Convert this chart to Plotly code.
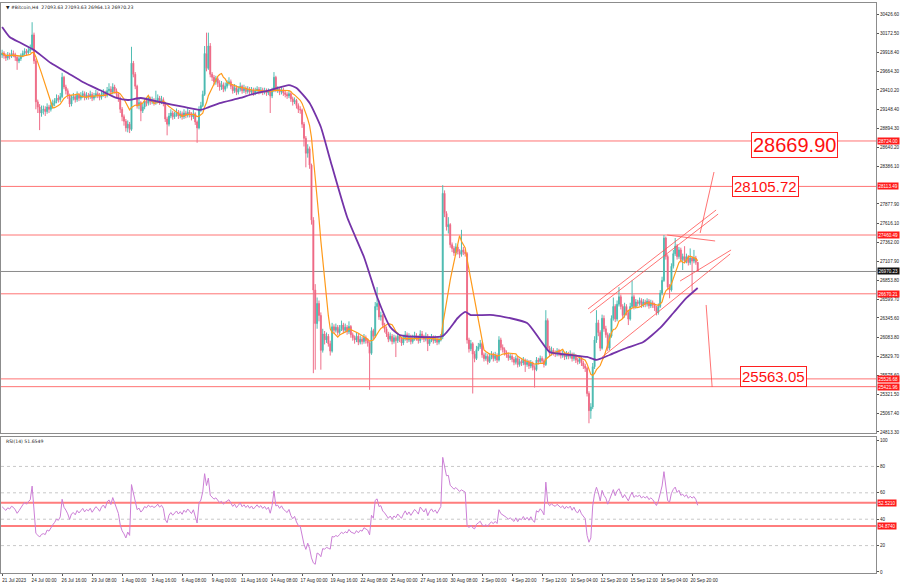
import plotly.graph_objects as go
import pandas as pd

# ---------------- data ----------------
first_open = 29880
closes = [
29905,29870,29840,29880,29860,29900,29885,29850,29800,29830,29870,29900,29930,29910,29940,29960,
30150,29800,29250,29180,29100,29140,
29150,29120,29180,29150,29200,29230,29260,29300,29280,29320,
29580,29450,29400,29330,29220,29300,
29320,29280,29340,29300,29330,29360,29310,29340,29320,29350,
29300,29330,29360,29340,29310,29350,29370,29340,29400,29420,
29380,29450,29400,29350,29300,29150,29050,28990,28900,28950,
28880,29770,29620,29460,29200,29240,29130,29180,29260,29230,
29290,29250,29270,29240,29260,29300,29250,29280,29230,29020,
28950,29060,29100,29050,29080,29110,29060,29090,29050,29100,
29070,29110,29080,29050,29090,28980,28900,29150,29200,29350,
29900,29700,30000,29620,29580,29520,29560,29500,29450,29480,
29420,29460,29500,29520,29460,29400,29440,29380,29420,29460,
29400,29430,29390,29420,29380,29410,29370,29400,29420,29390,
29410,29380,29400,29370,29390,29330,29400,29580,29410,29420,
29380,29410,29370,29350,29330,29360,29290,29250,29270,29200,
29150,29140,28950,28760,28560,28620,28400,27660,26720,26270,
26540,26380,25910,26130,26050,26100,26000,25900,26226,26180,
26220,26150,26200,26250,26180,26220,26160,26230,26120,26080,
26050,26100,26020,26060,26030,26080,26040,26010,25870,26175,
26100,26500,26540,26360,26380,26250,26200,26130,26060,26100,
26030,26080,26040,26100,26060,26010,26070,26120,26050,26090,
26030,26070,26110,26080,26040,26130,26090,26060,26100,26000,
26050,26080,26040,26060,26020,26050,26090,28020,27750,27570,
27600,27330,27280,27220,27300,27240,27200,27260,27230,27210,
26050,25930,26000,25860,25800,25920,25960,26000,25850,25800,
25830,25760,25820,25850,25800,25840,25780,26050,25950,25920,
25880,25850,25810,25830,25790,25750,25800,25720,25760,25740,
25780,25720,25750,25700,25740,25680,25650,25780,25760,25800,
25770,25720,26310,25940,25870,25910,25880,25860,25900,25870,
25840,25870,25820,25860,25830,25860,25800,25840,25780,25760,
25800,25740,25700,25670,25330,25100,25150,25690,26050,26280,
26150,25940,26340,26200,26120,25940,26100,26340,26500,26330,
26530,26630,26500,26380,26500,26420,26330,26500,26630,26500,
26560,26540,26580,26520,26560,26530,26570,26510,26550,26520,
26480,26420,26500,26680,26850,27420,27170,26760,26720,27040,
27210,27310,27170,27260,27130,27170,27110,27170,27090,27150,
27110,27150,27093.63,26970.23]
highs = [
29950,29930,29900,29920,29910,29950,29940,29910,29870,29870,29900,29940,29970,29960,29990,30020,
30320,30180,29830,29280,29220,29200,
29200,29190,29230,29210,29250,29280,29300,29350,29340,29370,
29640,29600,29480,29430,29360,29340,
29370,29350,29390,29370,29380,29400,29390,29380,29370,29400,
29380,29370,29410,29390,29370,29390,29420,29400,29450,29500,
29460,29500,29480,29430,29380,29320,29180,29080,29020,29000,
28980,29990,29800,29650,29480,29290,29260,29230,29300,29300,
29340,29320,29320,29300,29400,29350,29330,29330,29310,29250,
29050,29100,29150,29130,29120,29160,29140,29130,29120,29150,
29130,29170,29140,29110,29140,29110,29000,29190,29250,29400,
30000,30180,30180,30040,29650,29610,29600,29590,29540,29530,
29510,29510,29540,29580,29550,29490,29490,29470,29460,29510,
29480,29480,29460,29460,29450,29450,29440,29440,29460,29450,
29450,29440,29440,29430,29430,29410,29440,29650,29600,29460,
29450,29450,29440,29400,29380,29400,29380,29320,29310,29290,
29230,29190,29160,28980,28790,28680,28650,28420,27700,26800,
26620,26580,26420,26200,26170,26150,26130,26040,26280,26260,
26270,26250,26250,26310,26280,26270,26250,26300,26250,26150,
26110,26150,26130,26110,26090,26130,26110,26070,26030,26220,
26200,26560,26760,26580,26430,26400,26280,26230,26160,26150,
26130,26120,26110,26150,26130,26090,26120,26170,26150,26140,
26120,26120,26160,26140,26110,26180,26170,26120,26150,26130,
26100,26130,26110,26110,26090,26090,26130,28130,28060,27780,
27700,27620,27360,27310,27350,27330,27270,27530,27300,27270,
27230,26080,26050,26020,25900,25970,26010,26050,26020,25880,
25880,25860,25870,25900,25880,25890,25870,26100,26080,25990,
25950,25910,25880,25870,25860,25820,25840,25830,25800,25790,
25820,25800,25790,25780,25780,25760,25710,25820,25810,25840,
25830,25800,26450,26340,25970,25960,25940,25910,25940,25930,
25900,25910,25890,25900,25890,25910,25880,25880,25860,25810,
25840,25830,25770,25730,25690,25360,25200,25740,26100,26450,
26320,26180,26390,26380,26240,26150,26140,26380,26620,26530,
26580,26760,26660,26530,26550,26530,26450,26550,26850,26660,
26600,26590,26620,26610,26600,26590,26610,26600,26590,26580,
26550,26510,26540,26720,26900,27460,27440,27200,26800,27080,
27260,27420,27340,27300,27290,27210,27310,27210,27190,27280,
27170,27260,27180,27093.63]
lows = [
29840,29830,29800,29810,29820,29840,29850,29800,29680,29770,29800,29850,29880,29870,29890,29910,
29940,29760,29150,29100,28870,29050,
29080,29060,29090,29100,29120,29160,29190,29230,29240,29250,
29300,29420,29350,29290,29180,29190,
29270,29240,29250,29260,29270,29300,29270,29280,29280,29290,
29260,29270,29300,29300,29270,29280,29320,29300,29310,29370,
29340,29350,29360,29310,29250,29100,28990,28930,28850,28840,
28830,28860,29580,29420,29160,29150,28990,29100,29150,29190,
29200,29210,29220,29200,29210,29230,29210,29220,29190,28980,
28800,28920,29030,29010,29020,29050,29020,29030,29010,29020,
29030,29040,29040,29000,29020,28940,28700,28880,29110,29180,
29330,29660,29680,29580,29530,29470,29480,29450,29400,29410,
29380,29390,29430,29470,29420,29360,29370,29340,29350,29390,
29360,29370,29350,29360,29340,29350,29330,29340,29370,29350,
29360,29340,29350,29330,29340,29100,29300,29380,29380,29370,
29340,29350,29330,29310,29290,29300,29250,29200,29220,29160,
29100,29090,28900,28650,28370,28500,28350,27600,25603,25650,
26200,26300,25650,25880,25990,26010,25960,25840,25880,26140,
26150,26110,26120,26170,26140,26150,26120,26130,26080,26040,
26000,26020,25980,25990,25990,26000,26000,25960,25380,25850,
26060,26080,26450,26320,26310,26210,26150,26090,26020,26030,
25990,26000,25820,26010,26020,25970,25980,26040,26010,26020,
25990,26000,26040,26040,26000,26010,26050,26020,26030,25900,
25970,26020,26000,26010,25980,25990,26030,26060,27700,27520,
27480,27290,27230,27180,27190,27200,27150,27170,27190,27170,
26000,25880,25900,25330,25750,25780,25900,25930,25810,25760,
25770,25720,25740,25790,25760,25770,25740,25760,25910,25880,
25840,25810,25770,25780,25750,25710,25720,25680,25690,25700,
25710,25620,25690,25660,25670,25640,25410,25630,25720,25730,
25730,25680,25700,25900,25830,25840,25840,25820,25830,25830,
25800,25810,25780,25790,25790,25800,25760,25770,25740,25720,
25730,25700,25660,25620,25290,24930,24990,25120,25660,26010,
26100,25900,25920,26160,26080,25900,25910,26080,26310,26290,
26300,26500,26460,26340,26350,26380,26250,26310,26480,26460,
26470,26500,26510,26480,26490,26490,26500,26470,26480,26480,
26440,26380,26390,26480,26650,26830,27130,26720,26610,26700,
27010,27180,27130,27140,27090,26990,27080,27080,27050,27060,
26700,27080,27060,26964.13]

# slow moving average (purple), read at sample candles
ma_slow_idx = [0,4,10,17,26,35,43,52,61,67,74,84,97,106,109,116,127,132,143,153,157,164,170,175,184,193,
               200,207,212,235,243,247,250,262,280,287,292,303,312,317,324,333,342,351,358,365,371]
ma_slow_val = [30256,30122,30041,29947,29772,29638,29517,29409,29302,29275,29302,29248,29181,29141,29167,29234,
               29302,29342,29409,29476,29436,29234,28912,28468,27702,27165,26627,26224,26116,26103,26345,26426,
               26385,26385,26278,26049,25888,25848,25821,25781,25848,25942,26022,26211,26412,26614,26748]

x_tick_idx = [0,16,32,48,64,80,96,112,128,144,160,176,192,208,224,240,256,272,288,304,320,336,352,368]
x_tick_text = ["21 Jul 2023","24 Jul 00:00","26 Jul 16:00","29 Jul 08:00","1 Aug 00:00","3 Aug 16:00",
               "6 Aug 08:00","9 Aug 00:00","11 Aug 16:00","14 Aug 08:00","17 Aug 00:00","19 Aug 16:00",
               "22 Aug 08:00","25 Aug 00:00","27 Aug 16:00","30 Aug 08:00","2 Sep 00:00","4 Sep 20:00",
               "7 Sep 12:00","10 Sep 04:00","12 Sep 20:00","15 Sep 12:00","18 Sep 04:00","20 Sep 20:00"]
price_ticks = [30426.60,30172.50,29918.40,29664.30,29410.20,29148.40,28894.30,28640.20,28386.10,
               27877.90,27616.10,27362.00,27107.90,26853.80,26599.70,26345.60,26083.80,25829.70,
               25575.60,25321.50,25067.40,24813.30]
red_levels = [28724.00, 28113.49, 27460.49, 26670.21, 25526.68, 25421.96]
last_price = 26970.23
rsi_levels = [52.5210, 34.8740]
rsi_grid = [20, 40, 60, 80]
big_labels = [("28669.90", 422.4, 28669.90, 20), ("28105.72", 406.9, 28105.72, 15), ("25563.05", 411.2, 25563.05, 15)]
# drawn trend lines: (idx0, price0, idx1, price1)
trend_lines = [
    (312.5, 26466, 380.8, 27796),
    (313.6, 26412, 381.9, 27742),
    (354.7, 27460, 380.3, 27380),
    (372.3, 27487, 379.7, 28307),
    (320.0, 25820, 388.3, 27205),
    (361.6, 26842, 388.8, 27259),
    (375.5, 26520, 378.7, 25417),
]
rsi_seed_gain = 45.0   # average gain/loss state carried in from before the first visible candle
rsi_seed_loss = 48.0

# ---------------- derived ----------------
n = min(len(closes), len(highs), len(lows))
closes, highs, lows = closes[:n], highs[:n], lows[:n]
opens = [first_open] + closes[:-1]
idx = list(range(n))
s = pd.Series(closes, dtype=float)
ma_fast = s.rolling(10, min_periods=1).mean()
ag, al = rsi_seed_gain, rsi_seed_loss
rsi = []
prev = first_open
for c in closes:
    ch = c - prev
    ag = (ag * 13 + max(ch, 0)) / 14
    al = (al * 13 + max(-ch, 0)) / 14
    rsi.append(100 * ag / (ag + al) if (ag + al) > 0 else 50)
    prev = c

FONT = "Liberation Sans"
TF = dict(family=FONT, size=4.6, color="#222")
fig = go.Figure()
fig.add_trace(go.Candlestick(
    x=idx, open=opens, high=highs, low=lows, close=closes, xaxis="x", yaxis="y",
    increasing=dict(line=dict(color="#4fbdb3", width=1), fillcolor="#1f9e94"),
    decreasing=dict(line=dict(color="#ef6f8a", width=1), fillcolor="#e0254f"),
    showlegend=False, hoverinfo="skip"))
fig.add_trace(go.Scatter(x=idx, y=ma_fast, mode="lines", line=dict(color="#ff9a1a", width=1.2),
                         xaxis="x", yaxis="y", showlegend=False, hoverinfo="skip"))
fig.add_trace(go.Scatter(x=ma_slow_idx, y=ma_slow_val, mode="lines", line=dict(color="#7433a8", width=1.8, shape="spline", smoothing=0.5),
                         xaxis="x", yaxis="y", showlegend=False, hoverinfo="skip"))
fig.add_trace(go.Scatter(x=idx, y=rsi, mode="lines", line=dict(color="#cc7fd6", width=1),
                         xaxis="x2", yaxis="y2", showlegend=False, hoverinfo="skip"))

shapes = []
for lv in red_levels:
    shapes.append(dict(type="line", xref="x domain", yref="y", x0=0, x1=1, y0=lv, y1=lv,
                       line=dict(color="rgba(255,70,70,0.75)", width=1), layer="below"))
shapes.append(dict(type="line", xref="x domain", yref="y", x0=0, x1=1, y0=last_price, y1=last_price,
                   line=dict(color="#8a8a8a", width=1), layer="below"))
for (a0, p0, a1, p1) in trend_lines:
    shapes.append(dict(type="line", xref="x", yref="y", x0=a0, y0=p0, x1=a1, y1=p1,
                       line=dict(color="rgba(255,80,80,0.8)", width=1)))
for gv in rsi_grid:
    shapes.append(dict(type="line", xref="x2 domain", yref="y2", x0=0, x1=1, y0=gv, y1=gv,
                       line=dict(color="#c8c8c8", width=1, dash="dot"), layer="below"))
for lv in rsi_levels:
    shapes.append(dict(type="line", xref="x2 domain", yref="y2", x0=0, x1=1, y0=lv, y1=lv,
                       line=dict(color="rgba(255,70,70,0.7)", width=2), layer="below"))

SMALL = dict(family="DejaVu Sans", size=4.6, color="#222")
ann = []
ann.append(dict(xref="paper", yref="paper", x=0.003, y=1, xanchor="left", yanchor="top", showarrow=False,
                text="▼ #Bitcoin,H4  27093.63 27093.63 26964.13 26970.23", font=SMALL))
ann.append(dict(xref="paper", yref="y2 domain", x=0.003, y=1, xanchor="left", yanchor="top", showarrow=False,
                text="RSI(14) 51.6549", font=SMALL))
for lv in red_levels:
    ann.append(dict(xref="paper", yref="y", x=1, y=lv, xanchor="left", yanchor="middle", showarrow=False,
                    text=f"{lv:.2f}", bgcolor="#ff1a1a", font=dict(family=FONT, size=4.6, color="white"),
                    borderpad=0.5, xshift=1))
ann.append(dict(xref="paper", yref="y", x=1, y=last_price, xanchor="left", yanchor="middle", showarrow=False,
                text=f"{last_price:.2f}", bgcolor="#111", font=dict(family=FONT, size=4.6, color="white"),
                borderpad=0.5, xshift=1))
for lv in rsi_levels:
    ann.append(dict(xref="paper", yref="y2", x=1, y=lv, xanchor="left", yanchor="middle", showarrow=False,
                    text=f"{lv:.4f}", bgcolor="#ff1a1a", font=dict(family=FONT, size=4.6, color="white"),
                    borderpad=0.5, xshift=1))
for (t, xi, yv, fs) in big_labels:
    ann.append(dict(xref="x", yref="y", x=xi, y=yv, xanchor="center", yanchor="middle", showarrow=False,
                    text=t, font=dict(family="Liberation Sans", size=fs, color="#ff1010"),
                    bgcolor="white", bordercolor="#ff2020", borderwidth=1, borderpad=1))

xr = [-0.6, 466.1]
fig.update_layout(
    width=900, height=585, margin=dict(l=1, r=24, t=3, b=12, autoexpand=False),
    paper_bgcolor="white", plot_bgcolor="white",
    xaxis=dict(domain=[0, 1], anchor="y", range=xr, showticklabels=False, showgrid=False, zeroline=False,
               rangeslider=dict(visible=False), showline=True, mirror=True, linecolor="#8c8c8c", linewidth=1,
               ticks="", automargin=False),
    yaxis=dict(domain=[0.2456, 1], anchor="x", range=[24799.2, 30578.5], side="right", showgrid=False, zeroline=False,
               tickvals=price_ticks, ticktext=[f"{v:.2f}" for v in price_ticks], ticks="outside", ticklen=2,
               tickcolor="#555", tickfont=TF, automargin=False,
               showline=True, mirror=True, linecolor="#8c8c8c", linewidth=1),
    xaxis2=dict(domain=[0, 1], anchor="y2", range=xr, showgrid=False, zeroline=False,
                tickvals=x_tick_idx, ticktext=x_tick_text, ticks="outside", ticklen=2, tickcolor="#555",
                tickfont=TF, tickangle=0, ticklabelshift=12, ticklabelstandoff=0, automargin=False,
                showline=True, mirror=True, linecolor="#8c8c8c", linewidth=1),
    yaxis2=dict(domain=[0, 0.2386], anchor="x2", range=[-0.76, 102.3], side="right", showgrid=False, zeroline=False,
                tickvals=[0, 20, 40, 60, 80, 100], ticks="outside", ticklen=2, tickcolor="#555",
                tickfont=TF, automargin=False,
                showline=True, mirror=True, linecolor="#8c8c8c", linewidth=1),
    shapes=shapes, annotations=ann,
)
fig.write_html("out.html", config={"displayModeBar": False},
               post_script="document.body.style.margin='0px';document.body.style.overflow='hidden';")
